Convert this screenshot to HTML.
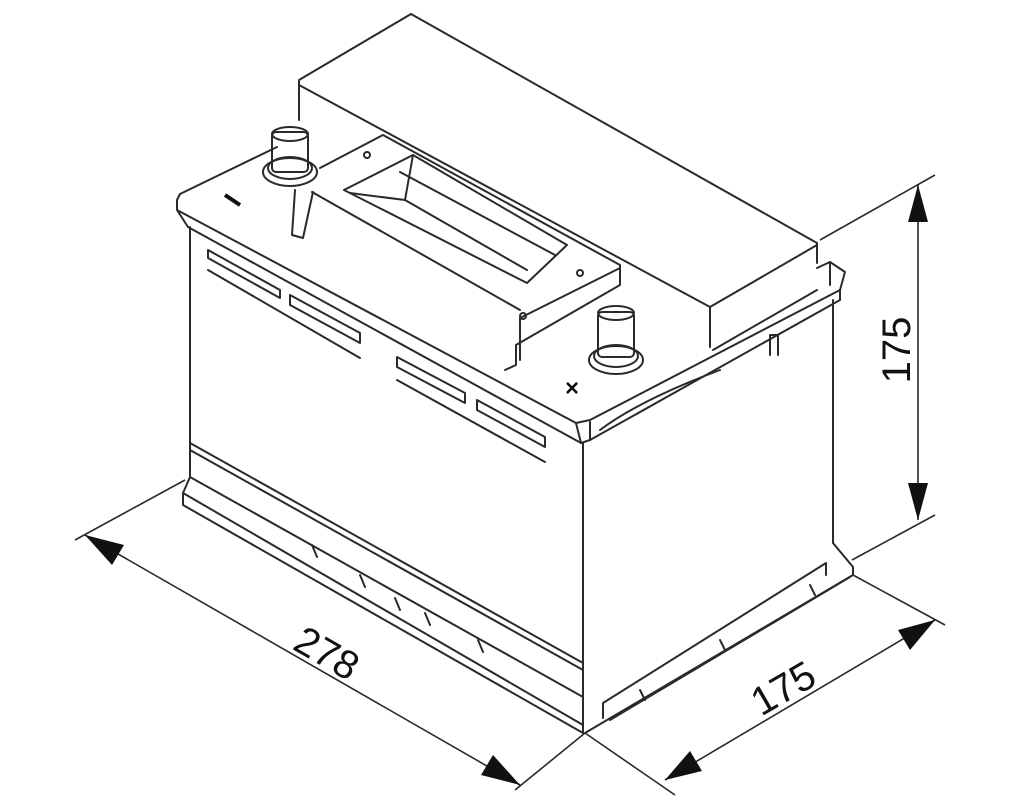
<!DOCTYPE html>
<html><head><meta charset="utf-8"><style>
html,body{margin:0;padding:0;background:#fff;}
svg{display:block}
text{font-family:"Liberation Sans",sans-serif;font-size:40px;fill:#111}
</style></head><body>
<svg width="1024" height="800" viewBox="0 0 1024 800" xmlns="http://www.w3.org/2000/svg">
<g fill="none" stroke="#2a2a2a" stroke-width="2" stroke-linejoin="round" stroke-linecap="round">
<polyline points="299,120 299,80 411,14 817,243 817,263"/>
<polyline points="299,85 710,307 710,347"/>
<line x1="710" y1="307" x2="817" y2="245"/>
<line x1="713" y1="350" x2="817" y2="290"/>
<polyline points="277,147 180,194 177,200 177,210 576,423 581,443 188,227 177,210"/>
<polyline points="576,423 590,420 840,290 845,272 830,262 817,268"/>
<polyline points="840,290 840,300 590,440 581,443"/>
<line x1="590" y1="422" x2="590" y2="440"/>
<line x1="830" y1="262" x2="830" y2="285"/>
<polyline points="320,168 383,135 620,265 620,285 516,345 516,365 505,370"/>
<polyline points="344,190 413,155 567,245 527,283 344,190"/>
<polyline points="413,155 405,200 527,270"/>
<line x1="405" y1="200" x2="350" y2="193"/>
<line x1="400" y1="172" x2="555" y2="255"/>
<line x1="620" y1="268" x2="520" y2="318"/>
<line x1="520" y1="318" x2="520" y2="360"/>
<circle cx="367" cy="155" r="3"/><circle cx="580" cy="273" r="3"/><circle cx="523" cy="316" r="3"/>
<line x1="312" y1="192" x2="520" y2="310"/>
<ellipse cx="290" cy="172" rx="27" ry="14"/>
<ellipse cx="290" cy="168" rx="22" ry="11"/>
<rect x="272" y="132" width="36" height="40" rx="4"/>
<ellipse cx="290" cy="134" rx="18" ry="7"/>
<polyline points="295,190 292,235 303,238 313,192"/>
<ellipse cx="616" cy="360" rx="27" ry="14"/>
<ellipse cx="616" cy="356" rx="22" ry="11"/>
<rect x="598" y="312" width="36" height="45" rx="4"/>
<ellipse cx="616" cy="313" rx="18" ry="7"/>
<polygon points="208,250 280,290 280,298 208,258"/>
<polygon points="290,295 360,333 360,343 290,305"/>
<line x1="208" y1="270" x2="360" y2="358"/>
<polygon points="397,357 465,393 465,403 397,367"/>
<polygon points="477,400 545,437 545,447 477,410"/>
<line x1="397" y1="380" x2="545" y2="462"/>
<polyline points="190,227 190,477 183,493 183,505 583,733"/>
<line x1="583" y1="443" x2="583" y2="733"/>
<polyline points="833,300 833,543 853,567 853,575 585,733"/>
<line x1="190" y1="443" x2="583" y2="663"/>
<line x1="190" y1="450" x2="583" y2="670"/>
<line x1="190" y1="477" x2="583" y2="697"/>
<line x1="183" y1="493" x2="583" y2="725"/>
<polyline points="603,718 603,703 826,563 826,575"/>
<line x1="610" y1="720" x2="850" y2="577"/>
<path d="M312,545 l5,12 M360,575 l5,12 M395,598 l5,12 M425,613 l5,12 M478,640 l5,12 M640,690 l5,10 M720,640 l5,10 M810,585 l5,10"/>
<path d="M600,430 q40,-30 120,-60 M770,355 l0,-20 l8,0 l0,20"/>
</g>
<line x1="225" y1="195" x2="240" y2="205" stroke="#111" stroke-width="4"/>
<text x="572" y="396" style="font-size:24px;font-weight:bold" text-anchor="middle">×</text>
<g stroke="#2a2a2a" stroke-width="1.6" fill="none">
<line x1="820" y1="240" x2="935" y2="175"/>
<line x1="852" y1="560" x2="935" y2="515"/>
<line x1="918" y1="185" x2="918" y2="520"/>
<line x1="185" y1="480" x2="75" y2="540"/>
<line x1="585" y1="733" x2="515" y2="790"/>
<line x1="85" y1="535" x2="520" y2="785"/>
<line x1="585" y1="733" x2="675" y2="795"/>
<line x1="853" y1="575" x2="945" y2="625"/>
<line x1="665" y1="780" x2="935" y2="620"/>
</g>
<g fill="#111">
<polygon points="918,185 908,222 928,222"/>
<polygon points="918,520 908,483 928,483"/>
<polygon points="85,535 124,545 112,565"/>
<polygon points="520,785 481,775 493,755"/>
<polygon points="665,780 690,751 702,771"/>
<polygon points="935,620 898,630 910,650"/>
</g>
<text transform="translate(910,350) rotate(-90)" text-anchor="middle">175</text>
<text transform="translate(320,665) rotate(30)" text-anchor="middle">278</text>
<text transform="translate(790,700) rotate(-30)" text-anchor="middle">175</text>
</svg>
</body></html>
